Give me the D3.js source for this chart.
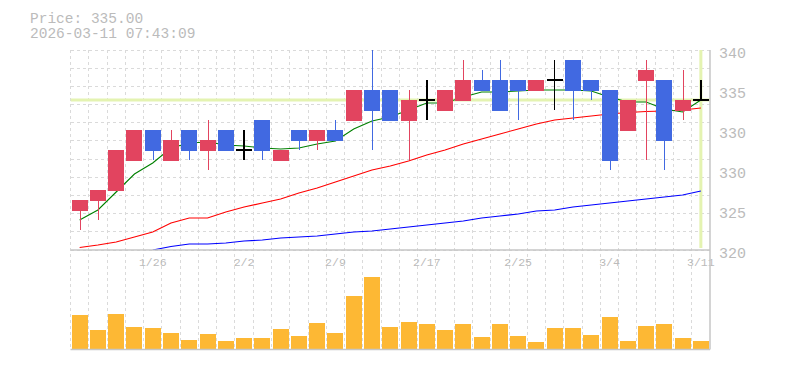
<!DOCTYPE html>
<html>
<head>
<meta charset="utf-8">
<script src="https://cdn.jsdelivr.net/npm/d3@7"></script>
<style>
  body { margin: 0; background: #fff; }
  text { font-family: "Liberation Mono", "DejaVu Sans Mono", monospace; }
</style>
</head>
<body>
<svg id="chart" width="785" height="370"></svg>
<script>
// Daily candles, 1/20 .. 3/11
var dates  = ["1/20","1/21","1/22","1/23","1/26","1/27","1/28","1/29","1/30","2/2","2/3","2/4","2/5","2/6","2/9","2/10","2/12","2/13","2/16","2/17","2/18","2/19","2/20","2/24","2/25","2/26","2/27","3/2","3/3","3/4","3/5","3/6","3/9","3/10","3/11"];
var opens  = [324,325,326,329,332,329,332,330,332,330,333,329,332,331,332,333,336,336,333,335,334,335,337,337,337,336,337,339,337,336,332,337,337,334,335];
var highs  = [325,326,330,332,332,332,332,333,332,332,333,330,332,332,333,336,340,336,336,337,336,339,338,339,337,337,339,339,337,336,335,339,337,338,337];
var lows   = [322,323,326,329,329,329,329,328,330,329,329,329,330,330,331,333,330,333,329,333,334,335,336,334,333,336,334,333,335,328,332,329,328,333,335];
var closes = [325,326,330,332,330,331,330,331,330,330,330,330,331,332,331,336,334,333,335,335,336,337,336,334,336,337,337,336,336,329,335,338,331,335,335];
// volume, thousand shares
var volumes = [33.8,18.6,34.8,21.6,20.6,15.5,8.4,14.5,7.4,10.5,10.5,19.6,12.5,25.7,15.5,53.1,72.4,21.6,26.7,24.7,18.6,24.7,11.5,24.7,12.5,6.4,20.6,20.6,13.5,31.8,7.4,22.6,24.7,10.5,7.4];
// moving averages
var ma5  = [323.0,324.0,325.8,327.6,328.7,330.2,330.7,330.8,330.5,330.4,330.2,330.1,330.2,330.6,330.9,332.1,332.9,333.3,334.0,334.7,334.7,335.3,335.8,335.8,335.9,336.0,336.0,336.0,335.9,335.3,334.8,334.8,334.1,333.8,335.0];
var ma25 = [320.25,320.5,320.8,321.3,321.8,322.7,323.2,323.2,323.8,324.3,324.7,325.1,325.7,326.2,326.8,327.4,328.0,328.4,328.9,329.5,330.0,330.6,331.1,331.6,332.1,332.6,333.0,333.2,333.4,333.6,333.75,333.85,333.9,334.0,334.2];
var ma75 = [null,null,null,null,320.0,320.35,320.6,320.6,320.7,320.9,321.0,321.2,321.3,321.4,321.6,321.8,321.9,322.1,322.3,322.5,322.7,322.9,323.2,323.4,323.6,323.9,324.0,324.3,324.5,324.7,324.9,325.1,325.3,325.5,325.9];

var yTickValues = [340,336,332,328,324,320];
var yTickLabels = ["340","335","330","330","325","320"];
var lastPrice = 335.00;
var timestamp = "2026-03-11 07:43:09";

// plot box
var plotLeft = 70.5, plotRight = 710, plotTop = 50, plotMid = 250, plotBottom = 348.5;
var gridColor = "#dadada", borderColor = "#c6c6c6", labelColor = "#bbb";

var svg = d3.select("#chart");

var x = d3.scaleBand().domain(d3.range(dates.length)).range([plotLeft, plotRight]);
var cx = i => x(i) + x.bandwidth() / 2;
var bodyW = 16;
var y = d3.scaleLinear().domain([320, 340]).range([plotMid, plotTop]);
var yv = d3.scaleLinear().domain([0, 100]).range([plotBottom, plotMid]);

// title
svg.append("text").attr("x", 30).attr("y", 23).attr("font-size", 14.5).attr("fill", labelColor)
  .text("Price: " + lastPrice.toFixed(2));
svg.append("text").attr("x", 30).attr("y", 38).attr("font-size", 14.5).attr("fill", labelColor)
  .text(timestamp);

// grid
var grid = svg.append("g").attr("stroke", gridColor).attr("stroke-dasharray", "3,3")
  .attr("shape-rendering", "crispEdges");
grid.selectAll(".hgrid").data(d3.range(12)).join("line").attr("class", "hgrid")
  .attr("x1", plotLeft).attr("x2", plotRight)
  .attr("y1", k => y(320 + k * 20 / 11)).attr("y2", k => y(320 + k * 20 / 11));
grid.selectAll(".vgrid").data(d3.range(dates.length)).join("line").attr("class", "vgrid")
  .attr("x1", i => x(i)).attr("x2", i => x(i))
  .attr("y1", plotTop).attr("y2", plotBottom);

svg.append("clipPath").attr("id", "clip").append("rect")
  .attr("x", plotLeft).attr("y", plotTop).attr("width", plotRight - plotLeft).attr("height", plotMid - plotTop);
var plot = svg.append("g").attr("clip-path", "url(#clip)");

// current price marker
plot.append("line").attr("x1", plotLeft).attr("x2", plotRight).attr("y1", y(lastPrice)).attr("y2", y(lastPrice))
  .attr("stroke", "#e4f3b1").attr("stroke-width", 3);
plot.append("line").attr("x1", cx(dates.length - 1)).attr("x2", cx(dates.length - 1))
  .attr("y1", plotTop).attr("y2", plotMid - 2)
  .attr("stroke", "#e4f3b1").attr("stroke-width", 3);

// moving averages
function maLine(vals, color) {
  var line = d3.line().defined(d => d != null).x((d, i) => cx(i)).y(d => y(d));
  plot.append("path").datum(vals).attr("fill", "none").attr("stroke", color)
    .attr("stroke-width", 1.1).attr("d", line);
}
maLine(ma75, "#0000ff");
maLine(ma25, "#ff0000");
maLine(ma5, "#008000");

// candles
var upColor = "#e2445f", downColor = "#4169e1";
var candles = plot.selectAll(".candle").data(d3.range(dates.length)).join("g").attr("class", "candle")
  .attr("shape-rendering", "crispEdges");
candles.each(function(i) {
  var g = d3.select(this);
  var o = opens[i], c = closes[i];
  if (o === c) {
    // doji: black cross
    g.append("line").attr("x1", cx(i)).attr("x2", cx(i)).attr("y1", y(highs[i])).attr("y2", y(lows[i]))
      .attr("stroke", "#000").attr("stroke-width", 1.5);
    g.append("line").attr("x1", cx(i) - bodyW / 2).attr("x2", cx(i) + bodyW / 2).attr("y1", y(c)).attr("y2", y(c))
      .attr("stroke", "#000").attr("stroke-width", 1.5);
    return;
  }
  var col = c > o ? upColor : downColor;
  g.append("line").attr("x1", Math.round(cx(i)) + 0.5).attr("x2", Math.round(cx(i)) + 0.5)
    .attr("y1", y(highs[i])).attr("y2", y(lows[i]))
    .attr("stroke", col).attr("stroke-width", 1);
  g.append("rect").attr("x", cx(i) - bodyW / 2).attr("width", bodyW)
    .attr("y", y(Math.max(o, c))).attr("height", Math.abs(y(o) - y(c)) + 1)
    .attr("fill", col);
});

// volume
svg.append("g").selectAll("rect").data(volumes).join("rect")
  .attr("shape-rendering", "crispEdges")
  .attr("x", (d, i) => cx(i) - bodyW / 2).attr("width", bodyW)
  .attr("y", d => yv(d)).attr("height", d => yv(0) - yv(d))
  .attr("fill", "#fdb834");

// x labels
var xAxis = d3.axisBottom(x)
  .tickValues(d3.range(dates.length).filter(i => i % 5 === 4))
  .tickFormat(i => dates[i]).tickSize(0).tickPadding(8);
var gx = svg.append("g").attr("transform", "translate(0," + plotMid + ")").call(xAxis);
gx.select(".domain").remove();
gx.selectAll("text").attr("font-family", "Liberation Mono, monospace").attr("font-size", 11.5).attr("fill", labelColor);

// y labels
var yAxis = d3.axisRight(y).tickValues(yTickValues)
  .tickFormat((d, i) => yTickLabels[i]).tickSize(0).tickPadding(0);
var gy = svg.append("g").attr("transform", "translate(719,3)").call(yAxis);
gy.select(".domain").remove();
gy.selectAll("text").attr("font-family", "Liberation Mono, monospace").attr("font-size", 15).attr("fill", labelColor);

// borders
var border = svg.append("g").attr("stroke", borderColor).attr("stroke-width", 1.5).attr("fill", "none");
border.append("line").attr("x1", plotLeft).attr("x2", plotRight).attr("y1", plotMid).attr("y2", plotMid);
border.append("line").attr("x1", plotLeft).attr("x2", plotRight).attr("y1", plotBottom + 1).attr("y2", plotBottom + 1);
border.append("line").attr("x1", plotRight).attr("x2", plotRight).attr("y1", plotTop).attr("y2", plotBottom + 1);
</script>
</body>
</html>
